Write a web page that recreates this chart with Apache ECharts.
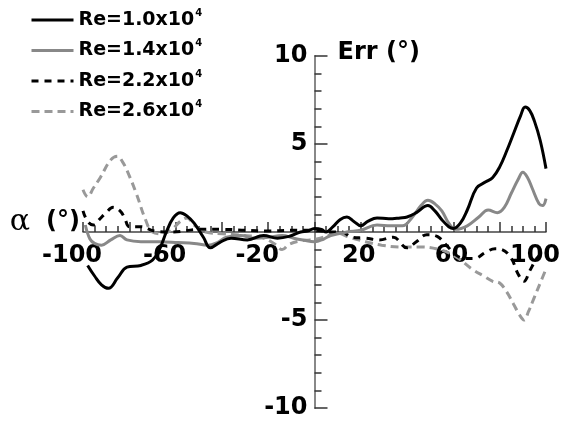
<!DOCTYPE html>
<html>
<head>
<meta charset="utf-8">
<script src="https://cdn.jsdelivr.net/npm/echarts@6/dist/echarts.min.js"></script>
<style>
  html, body { margin: 0; padding: 0; background: #fff; }
  #chart { width: 568px; height: 423px; }
</style>
</head>
<body>
<div id="chart"></div>
<script>
// α (deg) vs Err (deg), one array of [alpha, err] pairs per Reynolds number
const re10 = [[-98,-1.9],[-95,-2.5],[-92,-3.0],[-89,-3.2],[-85,-2.6],[-81,-2.0],[-75,-1.9],[-70,-1.6],[-67,-1.0],[-64,0],[-61,0.8],[-58,1.1],[-55,0.9],[-52,0.5],[-48,-0.3],[-45,-0.9],[-41,-0.6],[-36,-0.35],[-29,-0.45],[-22,-0.2],[-16,-0.35],[-11,-0.25],[-6,0],[-3,0.05],[0,0.2],[3,0.15],[5,0],[8,0.3],[11,0.7],[14,0.85],[17,0.6],[20,0.35],[23,0.6],[27,0.8],[32,0.75],[37,0.8],[40,0.85],[44,1.1],[49,1.5],[52,1.2],[55,0.7],[58,0.3],[60,0.2],[63,0.5],[66,1.25],[70,2.5],[74,2.85],[77,3.1],[80,3.7],[83,4.6],[86,5.6],[89,6.6],[91,7.1],[93,6.9],[95,6.3],[97.5,5.2],[100,3.6]]
const re14 = [[-99,0.4],[-97,-0.4],[-95,-0.65],[-92,-0.75],[-88,-0.45],[-84,-0.2],[-81,-0.45],[-75,-0.55],[-67,-0.55],[-59,-0.6],[-52,-0.65],[-46,-0.75],[-42,-0.6],[-38,-0.3],[-32,-0.2],[-26,-0.35],[-20,-0.3],[-14,-0.2],[-9,-0.35],[-5,-0.45],[0,-0.55],[4,-0.4],[7,-0.2],[14,0],[20,0.1],[27,0.4],[33,0.35],[38,0.35],[42,0.8],[46,1.5],[49,1.8],[52,1.6],[55,1.2],[58,0.5],[61,0.15],[66,0.35],[71,0.85],[75,1.25],[79,1.1],[82,1.4],[85,2.2],[88,3.0],[90,3.4],[92,3.1],[94,2.5],[97,1.6],[98.5,1.5],[100,1.9]]
const re22 = [[-100,1.2],[-98,0.6],[-95.5,0.4],[-93,0.7],[-90,1.1],[-87,1.4],[-84,1.2],[-82,0.8],[-80,0.3],[-75,0.3],[-69,0.05],[-61,0],[-50,0.15],[-40,0.15],[-30,0.1],[-20,0.05],[-10,0.1],[0,0.1],[7,0],[12,0],[16,-0.3],[22,-0.35],[28,-0.45],[34,-0.3],[40,-0.9],[44,-0.55],[48.5,-0.15],[53,-0.25],[57,-0.75],[61,-1.3],[65,-1.5],[69,-1.5],[74,-1.15],[78,-0.95],[81,-1.0],[85,-1.5],[88,-2.4],[90.5,-2.8],[93,-2.2],[96,-1.5],[98,-1.25],[100,-1.2]]
const re26 = [[-100,2.4],[-98,2.0],[-95.5,2.5],[-92.5,3.1],[-88,4.1],[-85,4.3],[-83,4.0],[-81,3.5],[-77,2.2],[-73,0.7],[-70,0],[-66,-0.1],[-62,0.1],[-58,0.6],[-55,0.8],[-52,0.4],[-47,0],[-40,-0.1],[-30,-0.2],[-22,-0.35],[-17,-0.7],[-14,-1.0],[-11,-0.7],[-6,-0.5],[-2,-0.45],[2.5,-0.35],[6,-0.2],[9.5,-0.05],[15,-0.3],[22,-0.55],[29,-0.75],[38,-0.85],[46,-0.85],[54,-1.0],[61,-1.4],[68,-2.1],[73,-2.5],[77,-2.8],[80,-2.9],[83,-3.4],[86,-4.1],[88.5,-4.7],[90.5,-5.0],[92.5,-4.5],[95,-3.7],[97.5,-2.9],[100,-2.1]]

const seriesNames = ['Re=1.0x10', 'Re=1.4x10', 'Re=2.2x10', 'Re=2.6x10']
const xLabels = [-100, -60, -20, 20, 60, 100]
const yLabels = [10, 5, -5, -10]

const font = '"DejaVu Sans", sans-serif'
const chart = echarts.init(document.getElementById('chart'))

// grid box; the two axes are shifted into the middle so they cross at (0, 0)
const gridL = 83, gridR = 22, gridT = 56, gridB = 15
const plotW = 568 - gridL - gridR
const plotH = 423 - gridT - gridB

function line(name, data, color, type, z) {
  return {
    name,
    type: 'line',
    data,
    smooth: 0.4,
    symbol: 'none',
    z,
    lineStyle: { color, width: 3, type },
    itemStyle: { color },
  }
}

chart.setOption({
  animation: false,
  legend: {
    orient: 'vertical',
    left: 25,
    top: 3,
    itemWidth: 42,
    itemHeight: 14,
    itemGap: 9,
    data: seriesNames,
    itemStyle: { opacity: 0 },
    lineStyle: { width: 3 },
    formatter: name => `{n|${name}}{s|4}`,
    textStyle: {
      rich: {
        n: { fontFamily: font, fontWeight: 'bold', fontSize: 19, color: '#000', lineHeight: 24 },
        s: { fontFamily: font, fontWeight: 'bold', fontSize: 10, color: '#000', verticalAlign: 'top', lineHeight: 24, padding: [0, 0, 10, 1] },
      },
    },
  },
  grid: { left: gridL, right: gridR, top: gridT, bottom: gridB, containLabel: false, outerBoundsMode: 'none' },
  xAxis: {
    type: 'value',
    min: -100,
    max: 100,
    interval: 20,
    offset: -plotH / 2,
    name: '{a|α}{b|(°)}',
    nameLocation: 'start',
    nameGap: 3,
    nameTextStyle: {
      padding: [0, 0, 20, 0],
      rich: {
        a: { fontFamily: '"DejaVu Serif", serif', fontSize: 30, color: '#000' },
        b: { fontFamily: font, fontWeight: 'bold', fontSize: 24, color: '#000', padding: [0, 0, 0, 16] },
      },
    },
    axisLine: { onZero: false, lineStyle: { color: '#444', width: 1.5 } },
    axisTick: { inside: true, length: 10, lineStyle: { color: '#333', width: 1.5 } },
    minorTick: { show: true, splitNumber: 4, length: 6, lineStyle: { color: '#333', width: 1.5 } },
    splitLine: { show: false },
    axisLabel: {
      margin: 12,
      formatter: v => {
        if (!xLabels.includes(v)) return ''
        return (v < 0 || v === 100) ? `{w|${v}}` : `{c|${v}}`
      },
      rich: {
        w: { fontFamily: font, fontWeight: 'bold', fontSize: 24, color: '#000', padding: [0, 22, 0, 0] },
        c: { fontFamily: font, fontWeight: 'bold', fontSize: 24, color: '#000', padding: [0, 4, 0, 0] },
      },
    },
  },
  yAxis: {
    type: 'value',
    min: -10,
    max: 10,
    interval: 5,
    offset: -plotW / 2,
    name: 'Err (°)',
    nameLocation: 'end',
    nameGap: 3,
    nameTextStyle: {
      fontFamily: font, fontWeight: 'bold', fontSize: 24, color: '#000',
      align: 'left', verticalAlign: 'middle', padding: [0, 0, 0, 23],
    },
    axisLine: { onZero: false, lineStyle: { color: '#888', width: 2 } },
    axisTick: { inside: true, length: 13, lineStyle: { color: '#333', width: 1.5 } },
    minorTick: { show: true, splitNumber: 5, length: 7, lineStyle: { color: '#333', width: 1.5 } },
    splitLine: { show: false },
    axisLabel: {
      margin: 7,
      fontFamily: font, fontWeight: 'bold', fontSize: 24, color: '#000',
      formatter: v => yLabels.includes(v) ? String(v) : '',
    },
  },
  series: [
    line(seriesNames[0], re10, '#000', 'solid', 5),
    line(seriesNames[1], re14, '#888', 'solid', 4),
    line(seriesNames[2], re22, '#000', [7, 6], 3),
    line(seriesNames[3], re26, '#999', [8, 5], 2),
  ],
})
</script>
</body>
</html>
